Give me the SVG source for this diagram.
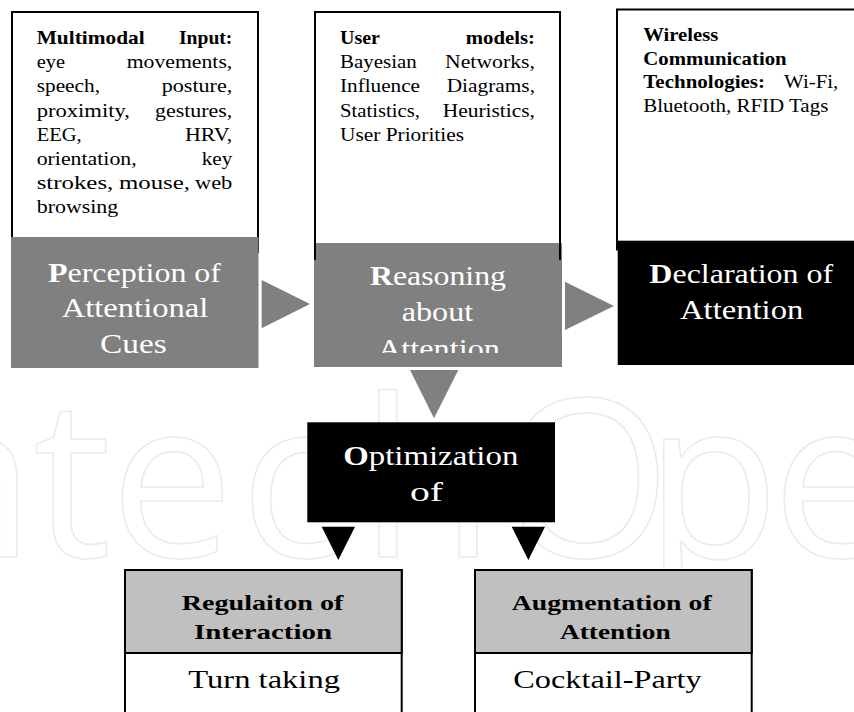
<svg xmlns="http://www.w3.org/2000/svg" width="854" height="712" viewBox="0 0 854 712">
<defs>
<style>
.t{font-family:"Liberation Serif",serif;fill:#000}
.s{font-size:19px}
.b{font-weight:bold}
.big{font-size:28px;fill:#fff}
.frame{fill:#fff;stroke:#000;stroke-width:2}
.gray{fill:#808080}
.blk{fill:#000}
.hdr{fill:#c0c0c0;stroke:#000;stroke-width:2}
.wm{font-family:"Open Sans","Liberation Sans",sans-serif;font-size:220px;fill:none;stroke:#ebebeb;stroke-width:1.6}
</style>
<clipPath id="clipR"><rect x="314" y="243" width="248" height="110"/></clipPath>
</defs>
<rect width="854" height="712" fill="#fff"/>
<g id="watermark">
<text class="wm" x="-150 -100 33 110 240 360 500 645 772 900" y="557">IntechOpen</text>
</g>

<g id="perception">
<rect class="frame" x="12" y="12" width="246" height="240"/>
<g class="t s b">
<text x="36.7" y="44" textLength="108" lengthAdjust="spacingAndGlyphs">Multimodal</text>
<text x="179" y="44" textLength="53.3" lengthAdjust="spacingAndGlyphs">Input:</text>
</g>
<g class="t s">
<text x="36.7" y="68.2" textLength="28.3" lengthAdjust="spacingAndGlyphs">eye</text>
<text x="126.7" y="68.2" textLength="105.6" lengthAdjust="spacingAndGlyphs">movements,</text>
<text x="36.7" y="92.4" textLength="63.3" lengthAdjust="spacingAndGlyphs">speech,</text>
<text x="161.7" y="92.4" textLength="70.6" lengthAdjust="spacingAndGlyphs">posture,</text>
<text x="36.7" y="116.6" textLength="93.3" lengthAdjust="spacingAndGlyphs">proximity,</text>
<text x="155" y="116.6" textLength="77.3" lengthAdjust="spacingAndGlyphs">gestures,</text>
<text x="36.7" y="140.8" textLength="45" lengthAdjust="spacingAndGlyphs">EEG,</text>
<text x="185" y="140.8" textLength="47.3" lengthAdjust="spacingAndGlyphs">HRV,</text>
<text x="36.7" y="165" textLength="100" lengthAdjust="spacingAndGlyphs">orientation,</text>
<text x="201.7" y="165" textLength="30.6" lengthAdjust="spacingAndGlyphs">key</text>
<text x="36.7" y="189.2" textLength="76.6" lengthAdjust="spacingAndGlyphs">strokes,</text>
<text x="119" y="189.2" textLength="71" lengthAdjust="spacingAndGlyphs">mouse,</text>
<text x="195" y="189.2" textLength="37.3" lengthAdjust="spacingAndGlyphs">web</text>
<text x="36.7" y="213.4" textLength="81.6" lengthAdjust="spacingAndGlyphs">browsing</text>
</g>
<rect class="gray" x="11" y="237" width="247.5" height="131"/>
<text class="t big" x="48" y="281.7" textLength="173" lengthAdjust="spacingAndGlyphs"><tspan font-weight="bold">P</tspan>erception of</text>
<text class="t big" x="61.7" y="316.5" textLength="146.7" lengthAdjust="spacingAndGlyphs">Attentional</text>
<text class="t big" x="100" y="352.5" textLength="66.7" lengthAdjust="spacingAndGlyphs">Cues</text>
</g>

<g id="reasoning">
<rect class="frame" x="315" y="12" width="245" height="240"/>
<g class="t s b">
<text x="340" y="44" textLength="40" lengthAdjust="spacingAndGlyphs">User</text>
<text x="465.7" y="44" textLength="69.3" lengthAdjust="spacingAndGlyphs">models:</text>
</g>
<g class="t s">
<text x="340" y="68.2" textLength="76.7" lengthAdjust="spacingAndGlyphs">Bayesian</text>
<text x="445" y="68.2" textLength="90" lengthAdjust="spacingAndGlyphs">Networks,</text>
<text x="340" y="92.4" textLength="80" lengthAdjust="spacingAndGlyphs">Influence</text>
<text x="446.7" y="92.4" textLength="88.3" lengthAdjust="spacingAndGlyphs">Diagrams,</text>
<text x="340" y="116.6" textLength="80" lengthAdjust="spacingAndGlyphs">Statistics,</text>
<text x="442.7" y="116.6" textLength="92.3" lengthAdjust="spacingAndGlyphs">Heuristics,</text>
<text x="340" y="140.8" textLength="124" lengthAdjust="spacingAndGlyphs">User Priorities</text>
</g>
<rect class="gray" x="314" y="243" width="248" height="124"/>
<path d="M315 243V260M560 243V260" stroke="#000" stroke-width="2"/>
<g clip-path="url(#clipR)">
<text class="t big" x="370" y="285" textLength="136" lengthAdjust="spacingAndGlyphs"><tspan font-weight="bold">R</tspan>easoning</text>
<text class="t big" x="401.7" y="321" textLength="71.6" lengthAdjust="spacingAndGlyphs">about</text>
<text class="t big" x="378" y="357.5" textLength="122" lengthAdjust="spacingAndGlyphs">Attention</text>
</g>
</g>

<g id="declaration">
<rect class="frame" x="617" y="9.5" width="260" height="240"/>
<g class="t s b">
<text x="643.3" y="41" textLength="75" lengthAdjust="spacingAndGlyphs">Wireless</text>
<text x="643.3" y="64.5" textLength="143.4" lengthAdjust="spacingAndGlyphs">Communication</text>
<text x="643.3" y="88" textLength="121.7" lengthAdjust="spacingAndGlyphs">Technologies:</text>
</g>
<g class="t s">
<text x="784" y="88" textLength="54.3" lengthAdjust="spacingAndGlyphs">Wi-Fi,</text>
<text x="643.3" y="111.5" textLength="185" lengthAdjust="spacingAndGlyphs">Bluetooth, RFID Tags</text>
</g>
<rect class="blk" x="617.7" y="240.7" width="260" height="124.3"/>
<text class="t big" x="649.3" y="283.3" textLength="184" lengthAdjust="spacingAndGlyphs"><tspan font-weight="bold">D</tspan>eclaration of</text>
<text class="t big" x="680" y="319.3" textLength="123.3" lengthAdjust="spacingAndGlyphs">Attention</text>
</g>

<g id="optimization">
<rect class="blk" x="307.3" y="422.3" width="247.7" height="100"/>
<text class="t big" x="343.3" y="465" textLength="175" lengthAdjust="spacingAndGlyphs"><tspan font-weight="bold">O</tspan>ptimization</text>
<text class="t big" x="410" y="500.5" textLength="33" lengthAdjust="spacingAndGlyphs">of</text>
</g>

<g id="regulation">
<rect class="frame" x="125" y="570" width="276.7" height="160"/>
<rect class="hdr" x="125" y="570" width="276.7" height="83"/>
<text class="t b" font-size="22" x="181.7" y="610" textLength="161.7" lengthAdjust="spacingAndGlyphs">Regulaiton of</text>
<text class="t b" font-size="22" x="194" y="639" textLength="138" lengthAdjust="spacingAndGlyphs">Interaction</text>
<text class="t" font-size="26" x="188.3" y="688.3" textLength="151.7" lengthAdjust="spacingAndGlyphs">Turn taking</text>
</g>

<g id="augmentation">
<rect class="frame" x="475" y="570" width="276.7" height="160"/>
<rect class="hdr" x="475" y="570" width="276.7" height="83"/>
<text class="t b" font-size="22" x="511.7" y="610" textLength="200" lengthAdjust="spacingAndGlyphs">Augmentation of</text>
<text class="t b" font-size="22" x="560" y="639" textLength="110.7" lengthAdjust="spacingAndGlyphs">Attention</text>
<text class="t" font-size="26" x="513.3" y="688.3" textLength="188.3" lengthAdjust="spacingAndGlyphs">Cocktail-Party</text>
</g>

<g id="connectors">
<polygon class="gray" points="261.7,280 310,304 261.7,328.3"/>
<polygon class="gray" points="565,281.7 614,306 565,330"/>
<polygon class="gray" points="410,370 458.3,370 434,418.3"/>
<polygon class="blk" points="321.7,526.7 355,526.7 338.3,560"/>
<polygon class="blk" points="511.7,526.7 545,526.7 528.3,560"/>
</g>
</svg>
